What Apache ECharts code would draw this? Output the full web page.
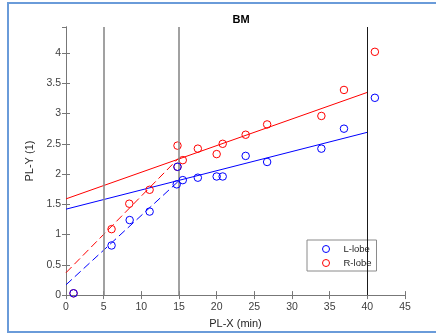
<!DOCTYPE html>
<html><head><meta charset="utf-8">
<script src="https://cdn.jsdelivr.net/npm/echarts@6/dist/echarts.min.js"></script>
<style>html,body{margin:0;padding:0;background:#fff;}#c{width:436px;height:334px;}</style>
</head><body><div id="c"></div>
<script>
// L-lobe points
const lobeLX = [1.0, 6.05, 8.45, 11.1, 14.7, 14.8, 15.5, 17.5, 20.0, 20.8, 23.85, 26.7, 33.9, 36.9, 41.0];
const lobeLY = [0.03, 0.82, 1.24, 1.38, 1.83, 2.12, 1.90, 1.94, 1.96, 1.96, 2.30, 2.20, 2.42, 2.75, 3.26];
// R-lobe points
const lobeRX = [1.0, 6.05, 8.4, 11.1, 14.8, 14.8, 15.5, 17.5, 20.0, 20.8, 23.85, 26.7, 33.9, 36.9, 41.0];
const lobeRY = [0.03, 1.09, 1.51, 1.74, 2.47, 2.12, 2.23, 2.42, 2.33, 2.50, 2.65, 2.82, 2.96, 3.39, 4.02];
// fitted line endpoints
const fitLX = [0, 40], fitLY = [1.42, 2.69];
const fitRX = [0, 40], fitRY = [1.59, 3.35];
const earlyLX = [0, 15], earlyLY = [0.17, 1.89];
const earlyRX = [0, 15], earlyRY = [0.37, 2.27];
// vertical reference lines
const vLines = [5, 15, 40];
const vLineColors = ['#8a8a8a', '#8a8a8a', '#1a1a1a'];
const vLineWidths = [1.6, 1.6, 1];

const zip = (a, b) => a.map((v, i) => [v, b[i]]);
const FONT = 'Liberation Sans';
const BLUE = '#0000ff', RED = '#ff0000';
const axisCol = '#777777';

const xBase = {type:'value', min:0, max:45, interval:5,
  axisLine:{show:true, lineStyle:{color:axisCol, width:1}},
  axisTick:{show:true, inside:true, length:4, lineStyle:{color:axisCol}},
  splitLine:{show:false}};
const yBase = {type:'value', min:0, max:4.43, interval:0.5,
  axisLine:{show:true, lineStyle:{color:axisCol, width:1}},
  axisTick:{show:true, inside:true, length:4, lineStyle:{color:axisCol}},
  splitLine:{show:false}};

const markerStyle = c => ({color:'rgba(255,255,255,0)', borderColor:c, borderWidth:1, opacity:1});

const chart = echarts.init(document.getElementById('c'), null, {renderer:'canvas'});
chart.setOption({
  backgroundColor:'#fff',
  animation:false,
  title:{text:'BM', left:236, top:9, textAlign:'center',
    textStyle:{fontFamily:FONT, fontSize:11, fontWeight:'bold', color:'#000'}},
  grid:{left:66, right:31, top:27, bottom:38},
  xAxis:[
    Object.assign({}, xBase, {position:'bottom', name:'PL-X (min)', nameLocation:'middle', nameGap:21,
      nameTextStyle:{fontFamily:FONT, fontSize:11, color:'#262626'},
      axisLabel:{show:true, margin:7, fontFamily:FONT, fontSize:10.5, color:'#404040'}}),
    Object.assign({}, xBase, {position:'top', axisLabel:{show:false}})
  ],
  yAxis:[
    Object.assign({}, yBase, {position:'left', name:'PL-Y (1)', nameLocation:'middle', nameGap:18,
      nameTextStyle:{fontFamily:FONT, fontSize:11, color:'#262626'},
      axisLabel:{show:true, margin:5, showMaxLabel:false, fontFamily:FONT, fontSize:10.5, color:'#404040'}}),
    Object.assign({}, yBase, {position:'right', axisLabel:{show:false}})
  ],
  legend:{
    data:['L-lobe','R-lobe'], orient:'vertical', left:307, top:240,
    itemWidth:7, itemHeight:7, itemGap:2,
    padding:[3, 5, 2, 15],
    borderColor:'#8a8a8a', borderWidth:1, backgroundColor:'#fff',
    itemStyle:{borderWidth:1, color:'rgba(255,255,255,0)'},
    textStyle:{fontFamily:FONT, fontSize:9.5, color:'#262626', lineHeight:12, padding:[0,0,0,9]}
  },
  series:[
    {type:'line', name:'vref', data:[], markLine:{silent:true, symbol:'none', label:{show:false},
      data: vLines.map((v,i)=>({xAxis:v, lineStyle:{color:vLineColors[i], width:vLineWidths[i], type:'solid'}}))}},
    {type:'line', name:'fitL', data:zip(fitLX, fitLY), symbol:'none', lineStyle:{color:BLUE, width:1}, z:3},
    {type:'line', name:'fitR', data:zip(fitRX, fitRY), symbol:'none', lineStyle:{color:RED, width:1}, z:3},
    {type:'line', name:'earlyL', data:zip(earlyLX, earlyLY), symbol:'none', lineStyle:{color:BLUE, width:1, type:[8,4]}, z:3},
    {type:'line', name:'earlyR', data:zip(earlyRX, earlyRY), symbol:'none', lineStyle:{color:RED, width:1, type:[8,4]}, z:3},
    {type:'scatter', name:'R-lobe', data:zip(lobeRX, lobeRY), symbol:'circle', symbolSize:7.5,
      itemStyle:markerStyle(RED), z:4},
    {type:'scatter', name:'L-lobe', data:zip(lobeLX, lobeLY), symbol:'circle', symbolSize:7.5,
      itemStyle:markerStyle(BLUE), z:5}
  ],
  graphic:[{type:'rect', shape:{x:8, y:3, width:440, height:329}, silent:true,
    style:{fill:'none', stroke:'#6a9bd9', lineWidth:2}, z:100}]
});
</script></body></html>
